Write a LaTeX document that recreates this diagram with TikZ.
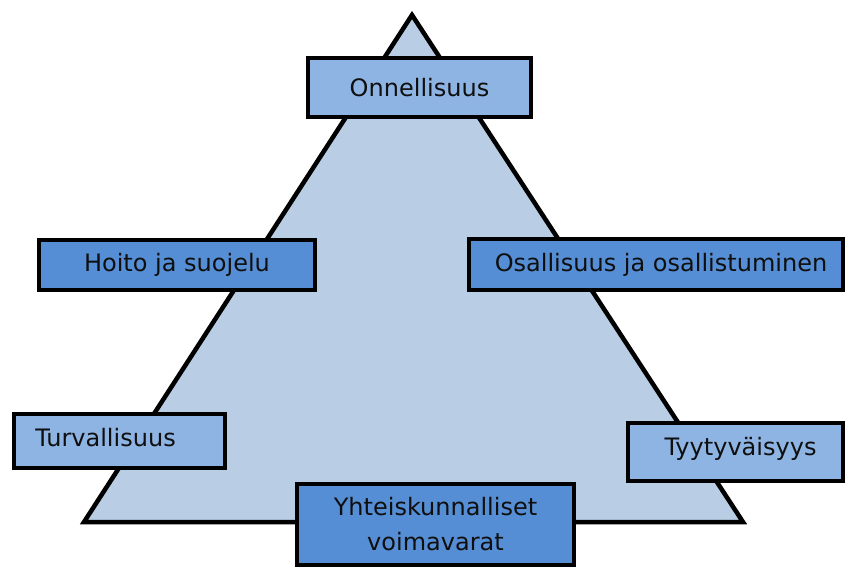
\documentclass[tikz,border=0pt]{standalone}
\usepackage{fontspec}
\setmainfont{DejaVu Sans}
\definecolor{trifill}{RGB}{185,205,229}
\definecolor{liteblue}{RGB}{142,180,227}
\definecolor{darkblue}{RGB}{85,142,213}
\definecolor{txtgrey}{RGB}{15,15,15}
\tikzset{
  litebox/.style={draw=black, fill=liteblue, line width=4.5pt},
  darkbox/.style={draw=black, fill=darkblue, line width=4.5pt},
  label/.style={font=\fontsize{24}{35}\selectfont, text=txtgrey, align=center}
}
\begin{document}
\begin{tikzpicture}[x=1pt, y=-1pt]
      \useasboundingbox (0, 0) rectangle (845, 568);
      \draw[line width=4.5pt, fill=trifill] (412, 15) -- (743, 522) -- (84, 522) -- cycle;
      \draw[litebox] (308, 58) rectangle (531, 117) node (onn) [pos=.5, label] {Onnellisuus};
      \draw[darkbox] (39, 240) rectangle (315, 290) node (hoito) [pos=.5, label] {Hoito ja suojelu}
            (469, 239) rectangle (843, 290) node (osal) [pos=.5, label, xshift=5pt] {Osallisuus ja osallistuminen};
      \draw[litebox] (14, 414) rectangle (225, 468) node (turv) [pos=.5, label, xshift=-14pt, yshift=3pt] {Turvallisuus}
            (628, 423) rectangle (843, 481) node (tyyt) [pos=.5, label, xshift=5pt, yshift=3pt] {Tyytyväisyys};
      \draw[darkbox] (297, 484) rectangle (574, 565) node (yht) [pos=.5, label] {Yhteiskunnalliset\\voimavarat};
      \end{tikzpicture}
\end{document}
